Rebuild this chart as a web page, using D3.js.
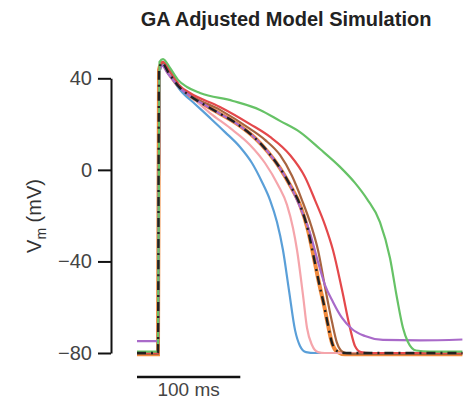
<!DOCTYPE html>
<html>
<head>
<meta charset="utf-8">
<script src="https://cdn.jsdelivr.net/npm/d3@7"></script>
<style>
  body { margin: 0; background: #fff; }
  text { font-family: "Liberation Sans", Arial, sans-serif; }
</style>
</head>
<body>
<div class="canvas"></div>
<script>
// traces: time (ms) and membrane potential (mV)
const blueT = [0, 20.3, 21.8, 25.2, 32.0, 41.6, 56.1, 70.7, 85.2, 99.7, 111.3, 121.0, 128.8, 135.5, 141.3, 147.1, 153.0, 157.8, 163.6, 172.3, 315];
const blueV = [-80, -80, 42.8, 46.3, 41.5, 35.0, 28.8, 22.7, 16.5, 10.0, 3.0, -5.3, -13.2, -22.8, -35.0, -52.5, -70.0, -76.9, -79.6, -80, -80];

const orangeT = [0, 20.3, 21.3, 24.2, 30.0, 41.6, 51.3, 70.7, 99.7, 114.2, 126.8, 138.4, 148.1, 157.8, 165.5, 171.3, 176.2, 181.0, 184.9, 188.8, 193.6, 201.4, 315];
const orangeV = [-80.6, -80.6, 43.7, 46.8, 42.8, 35.8, 32.3, 27.0, 19.2, 13.9, 7.8, 0.8, -6.6, -15.3, -26.3, -38.5, -49.4, -59.0, -67.8, -75.6, -79.4, -80.6, -80.6];

const greenT = [0, 20.3, 21.8, 25.2, 32.0, 39.7, 48.4, 61.0, 92.9, 119.1, 138.4, 157.8, 177.2, 196.5, 211.0, 222.6, 235.2, 244.9, 251.7, 257.5, 262.3, 270.1, 283.6, 315];
const greenV = [-79.4, -79.4, 47.2, 48.4, 44.5, 39.3, 36.2, 33.6, 30.1, 26.2, 21.4, 16.5, 9.1, 1.3, -5.7, -12.7, -22.8, -38.5, -56.0, -69.1, -75.2, -78.9, -79.4, -79.4];

const redT = [0, 20.3, 21.8, 25.2, 32.0, 41.6, 51.3, 80.3, 109.4, 128.8, 148.1, 162.6, 172.3, 182.0, 189.7, 198.5, 206.2, 211.0, 216.9, 225.6, 315];
const redV = [-80, -80, 44.6, 47.2, 43.3, 36.6, 33.6, 27.5, 20.0, 14.4, 6.5, -3.1, -13.2, -24.1, -35.0, -52.5, -69.1, -76.9, -79.6, -80, -80];

const purpleT = [0, 20.3, 21.8, 24.2, 30.0, 41.6, 51.3, 70.7, 99.7, 114.2, 126.8, 138.4, 148.1, 157.8, 167.5, 175.2, 182.0, 189.7, 198.5, 208.1, 220.7, 238.1, 274.0, 315];
const purpleV = [-74.8, -74.8, 42.8, 45.5, 42.0, 35.8, 32.3, 27.0, 19.2, 13.9, 7.8, 0.8, -6.6, -16.2, -27.6, -40.2, -50.3, -57.7, -64.7, -69.5, -72.6, -74.3, -74.5, -74.1];

const brownT = [0, 20.3, 21.8, 25.2, 32.0, 41.6, 51.3, 80.3, 109.4, 123.9, 138.4, 150.1, 159.7, 168.4, 175.2, 182.0, 188.8, 193.6, 199.4, 206.2, 315];
const brownV = [-80.4, -80.4, 43.7, 46.8, 42.8, 36.3, 32.8, 26.2, 17.9, 13.1, 6.5, -2.7, -13.2, -24.1, -35.0, -51.2, -66.5, -75.6, -79.6, -80.4, -80.4];

const pinkT = [0, 20.3, 21.8, 25.2, 32.0, 41.6, 56.1, 70.7, 90.0, 109.4, 123.9, 136.5, 145.2, 151.0, 154.9, 160.7, 164.6, 169.4, 175.2, 182.0, 315];
const pinkV = [-80, -80, 43.7, 46.8, 42.4, 36.6, 30.5, 24.8, 18.3, 10.9, 3.0, -6.6, -15.3, -25.4, -35.0, -54.7, -69.1, -76.5, -79.6, -80, -80];

// target trace (dash-dot black)
const targetT = orangeT;
const targetV = [-80, -80, 43.7, 46.8, 42.8, 35.8, 32.3, 27.0, 19.2, 13.9, 7.8, 0.8, -6.6, -15.3, -26.3, -38.5, -49.4, -59.0, -67.8, -75.6, -79.1, -80, -80];

const yTicks = [-80, -40, 0, 40];
const scaleBarMs = 100;

const svg = d3.select('.canvas')
    .append('svg')
        .attr('width', 468)
        .attr('height', 403);

const x = d3.scaleLinear().domain([0, 100]).range([137, 240.3]);
const y = d3.scaleLinear().domain([-80, 40]).range([353, 78.3]);

// title
svg.append('text')
    .attr('x', 286)
    .attr('y', 26)
    .attr('text-anchor', 'middle')
    .attr('font-size', 20)
    .attr('font-weight', 'bold')
    .attr('fill', '#222')
    .text('GA Adjusted Model Simulation');

// y axis
const yAxis = d3.axisLeft(y)
    .tickValues(yTicks)
    .tickSize(13)
    .tickSizeOuter(0)
    .tickPadding(6)
    .tickFormat(d => d < 0 ? '\u2212' + Math.abs(d) : d);

const yAxisGroup = svg.append('g')
    .attr('transform', 'translate(111, 0)')
    .call(yAxis);

yAxisGroup.select('.domain').attr('stroke', '#111').attr('stroke-width', 2);
yAxisGroup.selectAll('.tick line').attr('stroke', '#111').attr('stroke-width', 2);
yAxisGroup.selectAll('.tick text')
    .attr('font-size', 20)
    .attr('fill', '#444')
    .style('font-family', '"Liberation Sans", Arial, sans-serif');

// y label
const ylab = svg.append('text')
    .attr('transform', 'translate(41, 216) rotate(-90)')
    .attr('text-anchor', 'middle')
    .attr('font-size', 20)
    .attr('fill', '#333');
ylab.append('tspan').text('V');
ylab.append('tspan').attr('font-size', 14).attr('dy', 5).text('m');
ylab.append('tspan').attr('dy', -5).text(' (mV)');

// traces
const line = d3.line()
    .x(d => x(d[0]))
    .y(d => y(d[1]))
    .curve(d3.curveMonotoneX);

const traces = [
    {t: orangeT, v: orangeV, color: '#f28a3c', width: 4},
    {t: blueT, v: blueV, color: '#5a9fd8', width: 2.2},
    {t: pinkT, v: pinkV, color: '#f5a5ab', width: 2.2},
    {t: brownT, v: brownV, color: '#a8643f', width: 2.2},
    {t: redT, v: redV, color: '#e4484b', width: 2.2},
    {t: purpleT, v: purpleV, color: '#a96ac9', width: 2.2},
    {t: greenT, v: greenV, color: '#66c266', width: 2.2}
];

const graph = svg.append('g');

graph.selectAll('path.trace')
    .data(traces)
    .enter()
    .append('path')
        .attr('class', 'trace')
        .attr('fill', 'none')
        .attr('stroke', d => d.color)
        .attr('stroke-width', d => d.width)
        .attr('d', d => line(d.t.map((t, i) => [t, d.v[i]])));

graph.append('path')
    .attr('fill', 'none')
    .attr('stroke', '#222')
    .attr('stroke-width', 2.4)
    .attr('stroke-dasharray', '9,5,2,5')
    .attr('d', line(targetT.map((t, i) => [t, targetV[i]])));

// scale bar
svg.append('line')
    .attr('x1', x(0))
    .attr('x2', x(scaleBarMs))
    .attr('y1', 377)
    .attr('y2', 377)
    .attr('stroke', '#111')
    .attr('stroke-width', 2.5);

svg.append('text')
    .attr('x', (x(0) + x(scaleBarMs)) / 2)
    .attr('y', 396)
    .attr('text-anchor', 'middle')
    .attr('font-size', 19)
    .attr('fill', '#444')
    .text(scaleBarMs + ' ms');
</script>
</body>
</html>
